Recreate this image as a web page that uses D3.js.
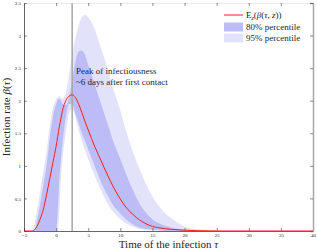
<!DOCTYPE html>
<html>
<head>
<meta charset="utf-8">
<script src="https://cdn.jsdelivr.net/npm/d3@7"></script>
<style>
  body { margin: 0; background: #fff; }
  svg text { font-family: "Liberation Serif", "DejaVu Serif", serif; fill: #262626; }
</style>
</head>
<body>
<div id="chart"></div>
<script>
// time axis samples (days)
const tau = [-5, -4, -3.8, -3.5, -3.2, -3, -2.5, -2, -1.5, -1, -0.5, 0, 0.25, 0.5, 0.75, 1, 1.5, 2, 2.5, 3, 3.5, 4, 4.5, 5, 6, 7, 8, 9, 10, 11, 12, 13, 14, 15, 16, 17, 18, 20, 22, 24, 26, 30, 35, 40];
// expected infection rate (red line)
const meanRate = [0, 0, 0, 0.01, 0.04, 0.07, 0.18, 0.33, 0.55, 0.8, 1.05, 1.3, 1.45, 1.6, 1.73, 1.85, 2.0, 2.07, 2.09, 2.05, 1.95, 1.82, 1.68, 1.55, 1.3, 1.08, 0.86, 0.66, 0.49, 0.35, 0.25, 0.17, 0.11, 0.07, 0.05, 0.035, 0.025, 0.012, 0.005, 0.002, 0, 0, 0, 0];
// 80% percentile band
const lo80 = [0, 0, 0, 0, 0, 0, 0, 0, 0, 0, 0, 0, 0.3, 0.8, 1.1, 1.35, 1.75, 1.95, 1.95, 1.8, 1.65, 1.5, 1.38, 1.25, 1.0, 0.75, 0.55, 0.38, 0.27, 0.17, 0.1, 0.05, 0.03, 0.02, 0.01, 0.005, 0, 0, 0, 0, 0, 0, 0, 0];
const hi80 = [0, 0, 0, 0, 0.05, 0.15, 0.4, 0.7, 1.0, 1.42, 1.75, 1.95, 2.01, 2.03, 2.0, 1.95, 1.93, 2.05, 2.3, 2.6, 2.75, 2.77, 2.7, 2.55, 2.25, 1.95, 1.65, 1.35, 1.1, 0.85, 0.62, 0.42, 0.28, 0.18, 0.12, 0.08, 0.05, 0.02, 0.005, 0, 0, 0, 0, 0];
// 95% percentile band
const lo95 = [0, 0, 0, 0, 0, 0, 0, 0, 0, 0, 0, 0, 0, 0.3, 0.8, 1.1, 1.5, 1.8, 1.88, 1.75, 1.55, 1.38, 1.24, 1.1, 0.85, 0.62, 0.42, 0.28, 0.18, 0.11, 0.06, 0.03, 0.02, 0.01, 0.005, 0, 0, 0, 0, 0, 0, 0, 0, 0];
const hi95 = [0, 0, 0, 0.05, 0.18, 0.3, 0.6, 0.9, 1.22, 1.6, 1.88, 2.02, 2.06, 2.07, 2.05, 2.03, 2.12, 2.4, 2.7, 2.95, 3.15, 3.28, 3.32, 3.28, 3.1, 2.8, 2.5, 2.15, 1.85, 1.5, 1.2, 0.95, 0.72, 0.53, 0.38, 0.27, 0.19, 0.07, 0.025, 0.008, 0, 0, 0, 0];

const xTicks = [-5, 0, 5, 10, 15, 20, 25, 30, 35, 40];
const yTicks = [0, 0.5, 1, 1.5, 2, 2.5, 3, 3.5];
const peakTau = 2.5;

const width = 317, height = 251;
const margin = { top: 3, right: 4, bottom: 20, left: 24 };

const svg = d3.select('#chart').append('svg')
    .attr('width', width)
    .attr('height', height);

const x = d3.scaleLinear().domain([-5, 40]).range([margin.left, width - margin.right]);
const y = d3.scaleLinear().domain([0, 3.5]).range([height - margin.bottom, margin.top]);

const rows = tau.map(function(t, i) {
    return { t: t, m: meanRate[i], lo80: lo80[i], hi80: hi80[i], lo95: lo95[i], hi95: hi95[i] };
});

const area95 = d3.area().x(d => x(d.t)).y0(d => y(d.lo95)).y1(d => y(d.hi95)).curve(d3.curveMonotoneX);
const area80 = d3.area().x(d => x(d.t)).y0(d => y(d.lo80)).y1(d => y(d.hi80)).curve(d3.curveMonotoneX);
const line = d3.line().x(d => x(d.t)).y(d => y(d.m)).curve(d3.curveMonotoneX);

svg.append('path').datum(rows).attr('d', area95).attr('fill', '#e2e2fb');
svg.append('path').datum(rows).attr('d', area80).attr('fill', '#bcbcf7');

// peak marker
svg.append('line')
    .attr('x1', x(peakTau)).attr('x2', x(peakTau))
    .attr('y1', y(3.5)).attr('y2', y(0))
    .attr('stroke', '#a6a6a6').attr('stroke-width', 1.5);

// axes (ticks point inward, matlab style)
const axisColor = '#404040';
const gx = svg.append('g').attr('transform', `translate(0,${y(0)})`)
    .call(d3.axisBottom(x).tickValues(xTicks).tickSize(-3).tickPadding(2).tickFormat(d3.format('d')));
const gy = svg.append('g').attr('transform', `translate(${x(-5)},0)`)
    .call(d3.axisLeft(y).tickValues(yTicks).tickSize(-3).tickPadding(3).tickFormat(d => d));
const gTop = svg.append('g').attr('transform', `translate(0,${y(3.5)})`)
    .call(d3.axisTop(x).tickValues(xTicks).tickSize(-3).tickFormat(''));
const gRight = svg.append('g').attr('transform', `translate(${x(40)},0)`)
    .call(d3.axisRight(y).tickValues(yTicks).tickSize(-3).tickFormat(''));

[gx, gy, gTop, gRight].forEach(function(g) {
    g.selectAll('.tick line').attr('stroke', axisColor).attr('stroke-width', 0.6);
    g.selectAll('.tick text').style('font-size', '5px').style('font-family', '"Liberation Serif", serif').attr('fill', '#262626');
});
gx.select('.domain').attr('stroke', axisColor).attr('stroke-width', 0.8);
gy.select('.domain').attr('stroke', axisColor).attr('stroke-width', 0.8);
gTop.select('.domain').attr('stroke', '#d0d0d0').attr('stroke-width', 0.5);
gRight.select('.domain').attr('stroke', '#a6a6a6').attr('stroke-width', 1.5);

// mean line drawn over the axis so the flat tail shows red
svg.append('path').datum(rows).attr('d', line)
    .attr('fill', 'none').attr('stroke', '#ff1a1a').attr('stroke-width', 1);

// axis titles
svg.append('text')
    .attr('x', (x(-5) + x(40)) / 2).attr('y', 248)
    .attr('text-anchor', 'middle')
    .style('font-size', '11px')
    .html('Time of the infection <tspan font-style="italic">τ</tspan>');

svg.append('text')
    .attr('transform', `translate(10,${(y(0) + y(3.5)) / 2}) rotate(-90)`)
    .attr('text-anchor', 'middle')
    .style('font-size', '11px')
    .html('Infection rate <tspan font-style="italic">β</tspan>(<tspan font-style="italic">τ</tspan>)');

// annotation
const note = svg.append('text').style('font-size', '9px');
note.append('tspan').attr('x', 76).attr('y', 74).text('Peak of infectiousness');
note.append('tspan').attr('x', 76).attr('y', 85).text('~6 days after first contact');

// legend
const legend = svg.append('g');
legend.append('line').attr('x1', 224).attr('x2', 243).attr('y1', 15).attr('y2', 15)
    .attr('stroke', '#ff1a1a').attr('stroke-width', 1);
legend.append('rect').attr('x', 224).attr('y', 22.5).attr('width', 19).attr('height', 9).attr('fill', '#bcbcf7');
legend.append('rect').attr('x', 224).attr('y', 33.5).attr('width', 19).attr('height', 9).attr('fill', '#e2e2fb');
const lt = legend.append('text').attr('x', 246).attr('y', 18).style('font-size', '9px');
lt.append('tspan').text('E');
lt.append('tspan').attr('font-style', 'italic').attr('font-size', '6px').attr('dy', 2).text('z');
lt.append('tspan').attr('dy', -2).text('(');
lt.append('tspan').attr('font-style', 'italic').text('β');
lt.append('tspan').text('(');
lt.append('tspan').attr('font-style', 'italic').text('τ');
lt.append('tspan').text(', ');
lt.append('tspan').attr('font-style', 'italic').text('z');
lt.append('tspan').text('))');
legend.append('text').attr('x', 246).attr('y', 29.5).style('font-size', '9px').text('80% percentile');
legend.append('text').attr('x', 246).attr('y', 40.5).style('font-size', '9px').text('95% percentile');
</script>
</body>
</html>
